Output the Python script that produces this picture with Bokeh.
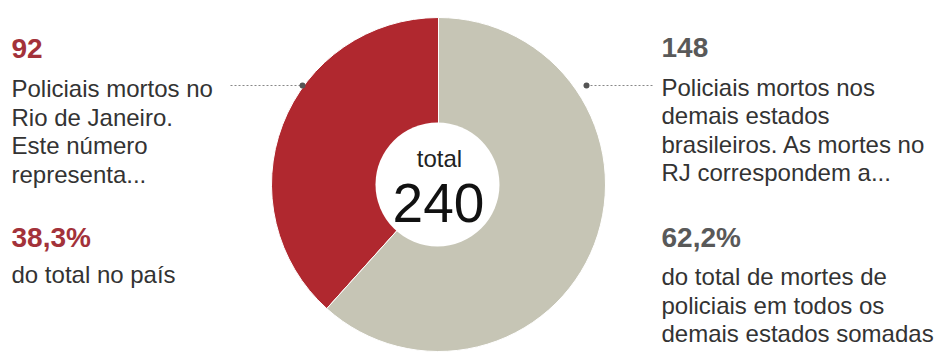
import math
from bokeh.plotting import figure
from bokeh.models import Range1d
from bokeh.core.properties import value
from bokeh.embed import file_html
from bokeh.resources import INLINE

# ---- data ----
categories = ["Rio de Janeiro", "Demais estados"]
deaths = [92, 148]
slice_colors = ["#b0282f", "#c6c5b5"]
total_label = "total"
pct_labels = ["38,3%", "62,2%"]
left_lines = ["Policiais mortos no", "Rio de Janeiro.", "Este número", "representa..."]
left_tail = ["do total no país"]
right_lines = ["Policiais mortos nos", "demais estados", "brasileiros. As mortes no", "RJ correspondem a..."]
right_tail = ["do total de mortes de", "policiais em todos os", "demais estados somadas"]

W, H = 940, 358
FONT = value("Liberation Sans")
BODY = 24
NUM = 28


def Y(y):  # image-space y (top=0) to data-space
    return H - y


def TB(y, size):  # baseline position, compensating the renderer's baseline shift
    return H - (y - 0.36 * size)


p = figure(width=W, height=H, output_backend="svg", toolbar_location=None,
           x_range=Range1d(0, W), y_range=Range1d(0, H), min_border=0)
p.axis.visible = False
p.grid.visible = False
p.outline_line_color = None
p.background_fill_color = "white"

# donut
cx, cy = 438, Y(184)
total = sum(deaths)
start = math.pi / 2
starts, ends = [], []
for v in deaths:
    a = 2 * math.pi * v / total
    starts.append(start)
    ends.append(start + a)
    start += a
p.wedge(x=[cx] * len(deaths), y=[cy] * len(deaths), radius=167,
        start_angle=starts, end_angle=ends, direction="anticlock",
        fill_color=slice_colors, line_color="white", line_width=1)
p.scatter(x=[cx - 1], y=[Y(184)], size=124, marker="circle",
          fill_color="white", line_color=None)
p.text(x=[cx + 1], y=[TB(167, 24)], text=[total_label], text_align="center",
       text_baseline="alphabetic", text_font=FONT, text_font_size="24px",
       text_color="#222222")
p.text(x=[cx], y=[TB(222, 55)], text=[str(total)], text_align="center",
       text_baseline="alphabetic", text_font=FONT, text_font_size="55px",
       text_color="#111111")

# leader lines
p.line(x=[230, 302], y=[Y(85), Y(85)], line_color="#888888", line_dash="2 2", line_width=1)
p.line(x=[586, 652], y=[Y(85), Y(85)], line_color="#888888", line_dash="2 2", line_width=1)
p.scatter(x=[302, 586], y=[Y(85), Y(85)], size=6, marker="circle",
          fill_color="#555555", line_color=None)

num_colors = ["#a3323a", "#595959"]
text_color = "#333333"

# left block
lx = 11
p.text(x=[lx], y=[TB(58, NUM)], text=[str(deaths[0])], text_font=FONT, text_font_size=f"{NUM}px",
       text_font_style="bold", text_color=num_colors[0], text_baseline="alphabetic")
p.text(x=[lx] * len(left_lines), y=[TB(97 + 28.5 * i, BODY) for i in range(len(left_lines))],
       text=left_lines, text_font=FONT, text_font_size=f"{BODY}px", text_color=text_color,
       text_baseline="alphabetic")
p.text(x=[lx], y=[TB(247, NUM)], text=[pct_labels[0]], text_font=FONT, text_font_size=f"{NUM}px",
       text_font_style="bold", text_color=num_colors[0], text_baseline="alphabetic")
p.text(x=[lx] * len(left_tail), y=[TB(283 + 28.5 * i, BODY) for i in range(len(left_tail))],
       text=left_tail, text_font=FONT, text_font_size=f"{BODY}px", text_color=text_color,
       text_baseline="alphabetic")

# right block
rx = 661
p.text(x=[rx], y=[TB(57, NUM)], text=[str(deaths[1])], text_font=FONT, text_font_size=f"{NUM}px",
       text_font_style="bold", text_color=num_colors[1], text_baseline="alphabetic")
p.text(x=[rx] * len(right_lines), y=[TB(95.5 + 28.5 * i, BODY) for i in range(len(right_lines))],
       text=right_lines, text_font=FONT, text_font_size=f"{BODY}px", text_color=text_color,
       text_baseline="alphabetic")
p.text(x=[rx], y=[TB(247, NUM)], text=[pct_labels[1]], text_font=FONT, text_font_size=f"{NUM}px",
       text_font_style="bold", text_color=num_colors[1], text_baseline="alphabetic")
p.text(x=[rx] * len(right_tail), y=[TB(285 + 28.5 * i, BODY) for i in range(len(right_tail))],
       text=right_tail, text_font=FONT, text_font_size=f"{BODY}px", text_color=text_color,
       text_baseline="alphabetic")

open("out.html", "w").write(file_html(p, INLINE))
